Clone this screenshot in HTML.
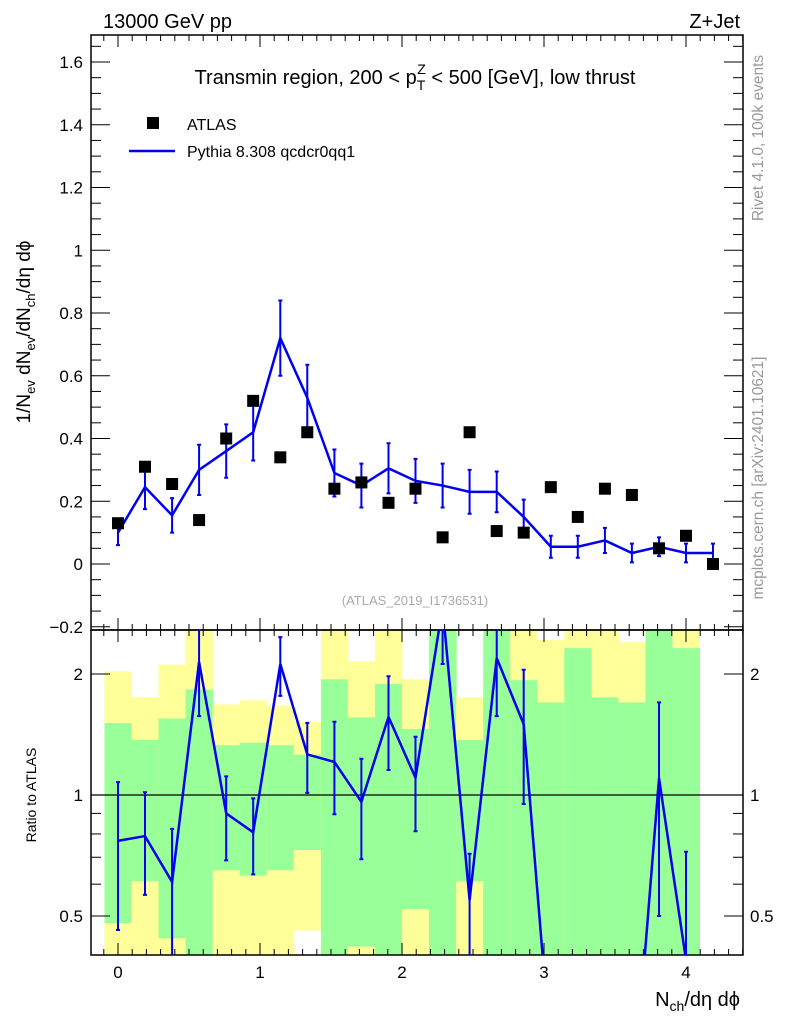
<!DOCTYPE html>
<html><head><meta charset="utf-8"><style>
html,body{margin:0;background:#fff;overflow:hidden;width:786px;height:1024px}
svg{display:block;font-family:"Liberation Sans",sans-serif;overflow:hidden}
</style></head><body>
<svg id="c" width="786" height="1024" viewBox="0 0 786 1024">
<g id="bands"></g>
<g id="axes"></g>
<g id="marks"></g>
<text x="103" y="28" font-size="20">13000 GeV pp</text>
<text x="740" y="28" font-size="20" text-anchor="end">Z+Jet</text>
<text x="415" y="84" font-size="20" text-anchor="middle">Transmin region, 200 &lt; p<tspan font-size="14" dy="6">T</tspan><tspan font-size="14" dx="-8" dy="-16">Z</tspan><tspan dy="10"> &lt; 500 [GeV], low thrust</tspan></text>
<rect x="147" y="117" width="12" height="12" fill="#000"/>
<text x="187" y="130" font-size="16">ATLAS</text>
<line x1="129" y1="151" x2="175" y2="151" stroke="#0000ee" stroke-width="2.5"/>
<text x="187" y="157" font-size="16">Pythia 8.308 qcdcr0qq1</text>
<text x="415" y="605" font-size="13" fill="#aaa" text-anchor="middle">(ATLAS_2019_I1736531)</text>
<text transform="translate(30,332) rotate(-90)" font-size="19" text-anchor="middle">1/N<tspan font-size="13" dy="5">ev</tspan><tspan dy="-5"> dN</tspan><tspan font-size="13" dy="5">ev</tspan><tspan dy="-5">/dN</tspan><tspan font-size="13" dy="5">ch</tspan><tspan dy="-5">/dη dϕ</tspan></text>
<text transform="translate(36,795) rotate(-90)" font-size="14" text-anchor="middle">Ratio to ATLAS</text>
<text x="740" y="1006" font-size="20" text-anchor="end">N<tspan font-size="14" dy="5">ch</tspan><tspan dy="-5">/dη dϕ</tspan></text>
<text transform="translate(763,138) rotate(-90)" font-size="15.5" fill="#999" text-anchor="middle">Rivet 4.1.0,  100k events</text>
<text transform="translate(763,478) rotate(-90)" font-size="15.5" fill="#999" text-anchor="middle">mcplots.cern.ch [arXiv:2401.10621]</text>
</svg>
<script>
const xCenters=[0,0.19,0.381,0.571,0.762,0.952,1.143,1.333,1.524,1.714,1.905,2.095,2.286,2.476,2.667,2.857,3.048,3.238,3.429,3.619,3.81,4.0,4.19];
const atlasValues=[0.13,0.31,0.255,0.14,0.40,0.52,0.34,0.42,0.24,0.26,0.195,0.24,0.085,0.42,0.105,0.10,0.245,0.15,0.24,0.22,0.05,0.09,0.0];
const pythiaValues=[0.10,0.245,0.155,0.30,0.36,0.42,0.72,0.53,0.29,0.25,0.305,0.265,0.25,0.23,0.23,0.15,0.055,0.055,0.075,0.035,0.055,0.035,0.035];
const pythiaErrors=[0.04,0.07,0.055,0.08,0.085,0.09,0.12,0.105,0.075,0.07,0.08,0.07,0.07,0.07,0.065,0.055,0.035,0.035,0.04,0.03,0.03,0.03,0.03];
const greenHi=[1.51,1.37,1.55,1.83,1.33,1.35,1.33,1.26,1.94,1.56,1.89,1.46,3,1.37,3,1.93,1.70,2.32,1.75,1.70,3,2.32,0];
const greenLo=[0.48,0.61,0.44,0.3,0.65,0.63,0.65,0.73,0.3,0.42,0.3,0.52,0.3,0.61,0.3,0.3,0.3,0.3,0.3,0.3,0.3,0.3,0];
const yellowHi=[2.03,1.75,2.11,3,1.68,1.72,1.67,1.52,3,2.15,3,1.94,3,1.75,3,3,2.43,3,3,2.40,3,3,0];
const yellowLo=[0.3,0.3,0.3,0.3,0.3,0.3,0.3,0.46,0.3,0.3,0.3,0.3,0.3,0.3,0.3,0.3,0.3,0.3,0.3,0.3,0.3,0.3,0];
const yTicks=[-0.2,0,0.2,0.4,0.6,0.8,1,1.2,1.4,1.6];
const yTickLabels=["−0.2","0","0.2","0.4","0.6","0.8","1","1.2","1.4","1.6"];
const xTicks=[0,1,2,3,4];
const rTicks=[0.5,1,2];

const NS="http://www.w3.org/2000/svg";
const L=91,R=743,T=35,M=630,B=955;
const X=v=>118+v*142;
const Y=v=>564-v*313.75;
const RY=r=>795-Math.log2(r)*121;
const HW=13.5;
function mk(tag,attrs,parent){const e=document.createElementNS(NS,tag);for(const k in attrs)e.setAttribute(k,attrs[k]);parent.appendChild(e);return e;}
const axes=document.getElementById('axes'),marks=document.getElementById('marks'),bands=document.getElementById('bands');
const clampR=r=>Math.min(B,Math.max(M,RY(r)));

xCenters.forEach((x,i)=>{
  if(yellowHi[i]<=0)return;
  const y=mk('rect',{x:X(x)-HW,y:clampR(yellowHi[i]),width:2*HW+0.5,height:clampR(yellowLo[i])-clampR(yellowHi[i]),fill:'#ffff99'},bands);
  
  
  const g=mk('rect',{x:X(x)-HW,y:clampR(greenHi[i]),width:2*HW+0.5,height:clampR(greenLo[i])-clampR(greenHi[i]),fill:'#99ff99'},bands);
  
  
});

[[T,M],[M,B]].forEach(([a,b],k)=>{
  const f=mk('rect',{x:L,y:a,width:R-L,height:b-a,fill:'none',stroke:'#000','stroke-width':1.5},axes);
  
  
});
for(let v=-0.1;v<=4.4;v+=0.1){
  const vv=Math.round(v*10)/10;const px=X(vv);if(px<L||px>R)continue;
  const maj=Math.abs(vv-Math.round(vv))<1e-6;const len=maj?12:6;
  [[T,1],[M,-1],[M,1],[B,-1]].forEach(([y0,d])=>mk('line',{x1:px,x2:px,y1:y0,y2:y0+d*len,stroke:'#000','stroke-width':1},axes));
}
xTicks.forEach(v=>{
  const t=mk('text',{x:X(v),y:978,'font-size':17,'text-anchor':'middle'},axes);t.textContent=v;
  
  
});
for(let v=-0.2;v<=1.7;v+=0.05){
  const vv=Math.round(v*100)/100;const py=Y(vv);if(py<T||py>M)continue;
  const maj=Math.abs(vv*5-Math.round(vv*5))<1e-6;const len=maj?19:10;
  mk('line',{x1:L,x2:L+len,y1:py,y2:py,stroke:'#000'},axes);
  mk('line',{x1:R,x2:R-len,y1:py,y2:py,stroke:'#000'},axes);
}
yTicks.forEach((v,i)=>{
  const t=mk('text',{x:83,y:Y(v)+6,'font-size':17,'text-anchor':'end'},axes);t.textContent=yTickLabels[i];
  
  
});
[0.4,0.5,0.6,0.7,0.8,0.9,1,2].forEach(r=>{
  const py=RY(r);if(py<M||py>B)return;const maj=rTicks.includes(r);const len=maj?19:10;
  mk('line',{x1:L,x2:L+len,y1:py,y2:py,stroke:'#000'},axes);
  mk('line',{x1:R,x2:R-len,y1:py,y2:py,stroke:'#000'},axes);
});
rTicks.forEach(r=>{
  const a=mk('text',{x:83,y:RY(r)+6,'font-size':17,'text-anchor':'end'},axes);a.textContent=r;
  
  
  const b=mk('text',{x:750,y:RY(r)+6,'font-size':17},axes);b.textContent=r;
  
  
});
const one=mk('line',{x1:L,x2:R,y1:RY(1),y2:RY(1),stroke:'#000','stroke-width':1.2},axes);



const C='#0000ee';
const pl=mk('polyline',{points:xCenters.map((x,i)=>X(x)+','+Y(pythiaValues[i])).join(' '),fill:'none',stroke:C,'stroke-width':2.5},marks);


xCenters.forEach((x,i)=>{
  const px=X(x),y1=Y(pythiaValues[i]+pythiaErrors[i]),y2=Y(pythiaValues[i]-pythiaErrors[i]);
  const e=mk('path',{d:`M${px},${y1}V${y2}M${px-2},${y1}h4M${px-2},${y2}h4`,stroke:C,'stroke-width':2,fill:'none'},marks);
  
  
  const s=mk('rect',{x:px-6,y:Y(atlasValues[i])-6,width:12,height:12,fill:'#000'},marks);
  
  
});

const cp=mk('clipPath',{id:'rc'},marks);mk('rect',{x:L,y:M,width:R-L,height:B-M},cp);
const rg=mk('g',{'clip-path':'url(#rc)'},marks);
const rpts=[];
xCenters.forEach((x,i)=>{
  if(atlasValues[i]<=0)return;
  const r=pythiaValues[i]/atlasValues[i];rpts.push(X(x)+','+RY(Math.max(r,0.05)));
  if(r<0.385)return;
  const er=pythiaErrors[i]/atlasValues[i];
  const y1=RY(r+er),y2=RY(Math.max(r-er,0.05));
  const e=mk('path',{d:`M${X(x)},${y1}V${y2}M${X(x)-2},${y1}h4M${X(x)-2},${y2}h4`,stroke:C,'stroke-width':2,fill:'none'},rg);
  
  
});
const rl=mk('polyline',{points:rpts.join(' '),fill:'none',stroke:C,'stroke-width':2.5},rg);


</script>
</body></html>
